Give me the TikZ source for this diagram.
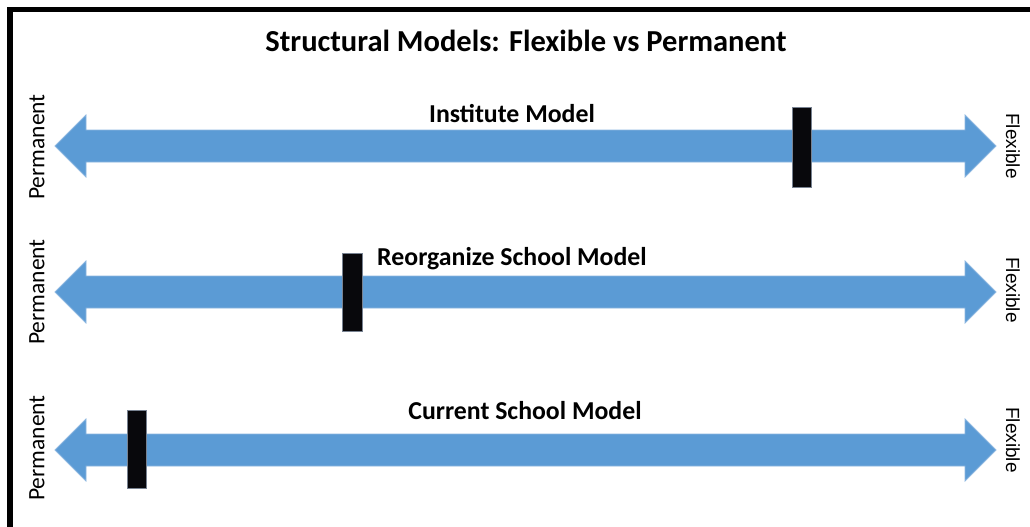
\documentclass[tikz,border=0pt]{standalone}
\usepackage{fontspec}
\setmainfont{Carlito}
\newfontfamily\arialfont{Liberation Sans}
\begin{document}
\begin{tikzpicture}[x=1pt,y=-1pt,
  scalebar/.style={fill={rgb,255:red,91;green,155;blue,213},
                   draw={rgb,255:red,140;green,182;blue,224},line width=0.8pt},
  marker/.style={fill={rgb,255:red,8;green,8;blue,12},
                 draw={rgb,255:red,120;green,130;blue,145},line width=0.8pt},
  modellabel/.style={font=\fontsize{25.8}{30}\selectfont\bfseries,anchor=base},
  leftend/.style={font=\fontsize{23.5}{27}\selectfont,rotate=90,anchor=center},
  rightend/.style={font=\arialfont\fontsize{19}{22}\selectfont,rotate=-90,anchor=center}]
\useasboundingbox (0,0) rectangle (1030,527);
% frame edges
\fill[black] (7,7) rectangle (1030,12);
\fill[black] (7,7) rectangle (13,527);

\node[font=\fontsize{30.5}{36}\selectfont\bfseries,anchor=base] (title) at (526,52)
  {Structural Models: Flexible vs Permanent};

% double-headed scale arrows, one per model
\foreach \row/\yc/\yp/\yf in {a/146/147/146,b/292/292/290,c/450/448/440}{
  \draw[scalebar] (55,\yc) -- (86,\yc-31) -- (86,\yc-16) -- (965,\yc-16)
     -- (965,\yc-31) -- (996,\yc) -- (965,\yc+31) -- (965,\yc+16)
     -- (86,\yc+16) -- (86,\yc+31) -- cycle;
  \node[leftend] (perm-\row) at (37,\yp) {Permanent};
  \node[rightend] (flex-\row) at (1013,\yf) {Flexible};
}

% position markers
\draw[marker] (792,107) rectangle (811,187);
\draw[marker] (342,253) rectangle (362,331);
\draw[marker] (127,410) rectangle (146,488);

\node[modellabel] (inst) at (512,122) {Institute Model};
\node[modellabel] (reorg) at (512,265) {Reorganize School Model};
\node[modellabel] (curr) at (525,419) {Current School Model};
\end{tikzpicture}
\end{document}
